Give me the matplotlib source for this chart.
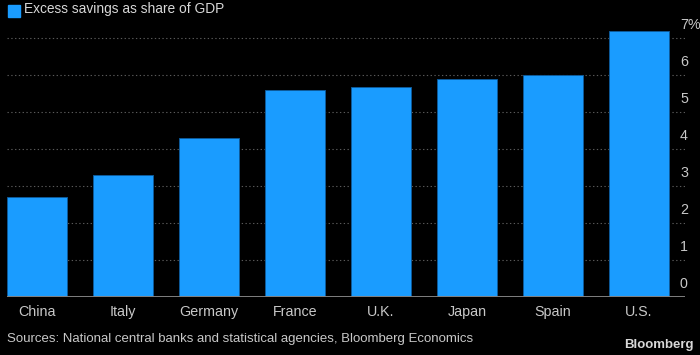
import matplotlib
matplotlib.use("Agg")
import matplotlib.pyplot as plt
from matplotlib.patches import Rectangle

categories = ["China", "Italy", "Germany", "France", "U.K.", "Japan", "Spain", "U.S."]
values = [2.70, 3.30, 4.30, 5.61, 5.69, 5.90, 6.01, 7.21]
yticks = [0, 1, 2, 3, 4, 5, 6, 7]
ytick_labels = ["0", "1", "2", "3", "4", "5", "6", "7%"]

W, H = 700, 355
plt.rcParams["font.family"] = ["Liberation Sans", "DejaVu Sans"]
fig = plt.figure(figsize=(W / 100, H / 100), dpi=100, facecolor="black")

# axes in pixel coords
left, right = 7, 685
base_y = 296.5
top_y = 20
ax = fig.add_axes([left / W, (H - base_y) / H, (right - left) / W, (base_y - top_y) / H])
ax.set_facecolor("black")
ax.set_xlim(-0.35, -0.35 + (right - left) / 86)
ax.set_ylim(0, (base_y - top_y) / 36.86)

for s in ax.spines.values():
    s.set_visible(False)
ax.set_yticks([])
ax.set_xticks(range(len(categories)))
ax.set_xticklabels(categories, color="#c8c8c8", fontsize=10.3)
ax.tick_params(axis="x", length=0, pad=6)

for t in yticks[1:]:
    ax.axhline(t, color="#5a5a5a", lw=0.8, ls=(0, (1.2, 2.2)), zorder=1)
ax.axhline(0, color="#808080", lw=1.4, zorder=3)

ax.bar(range(len(categories)), values, width=0.7, color="#1a9cff",
       edgecolor="#0e5a99", linewidth=0.7, zorder=2)

for t, lab in zip(yticks, ytick_labels):
    ax.annotate(lab, xy=(1.0, t), xycoords=("axes fraction", "data"),
                xytext=(-5, 6), textcoords="offset pixels",
                ha="left", va="bottom", color="#c8c8c8", fontsize=10.3)

# title with legend square
fig.patches.append(Rectangle((8 / W, 1 - 16.5 / H), 12 / W, 12 / H,
                             transform=fig.transFigure, color="#1a9cff"))
fig.text(24 / W, 1 - 9.5 / H, "Excess savings as share of GDP",
         color="#d8d8d8", fontsize=9.9, va="center", ha="left")

fig.text(7 / W, 1 - 339 / H,
         "Sources: National central banks and statistical agencies, Bloomberg Economics",
         color="#c8c8c8", fontsize=9.5, va="center", ha="left")
fig.text(694 / W, 1 - 345 / H, "Bloomberg", color="#d8d8d8", fontsize=9.5,
         fontweight="bold", va="center", ha="right")

fig.savefig("out.png", dpi=100, facecolor="black")
